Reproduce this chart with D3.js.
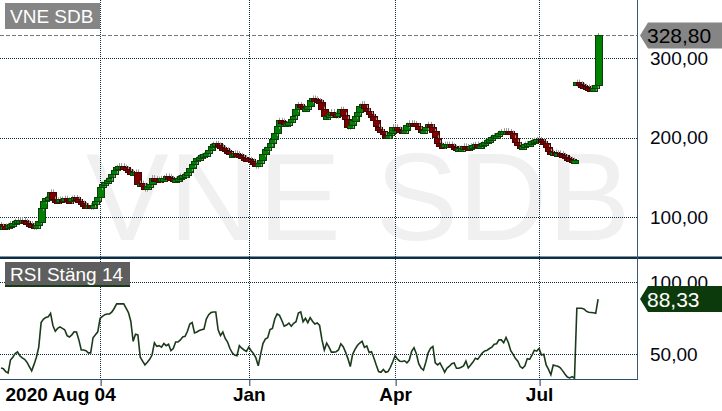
<!DOCTYPE html>
<html><head><meta charset="utf-8">
<script src="https://cdn.jsdelivr.net/npm/d3@7"></script>
<style>body{margin:0;background:#fff}svg{display:block}</style>
</head><body><svg id="c" width="722" height="411"></svg>
<script>
// ---- data (daily, 2020-08-04 .. 2021-08-05) ----
const closes = [
89,89,88,90,92,93,95,96,97,97,
95,93,92,90,88,90,95,112,121,124,
126,132,123,122,121,123,122,124,122,121,
124,125,123,120,118,116,114,115,113,116,
120,125,138,142,144,147,150,154,159,163,
165,165,163,161,158,156,157,157,142,143,
140,136,140,142,150,149,148,147,149,150,
152,151,149,148,148,150,152,153,154,157,
162,167,171,174,176,178,179,181,185,190,
192,193,191,189,187,185,183,179,179,181,
180,178,176,175,174,173,171,168,165,168,
172,180,186,188,193,198,206,215,222,221,
218,218,220,224,228,236,242,240,236,238,
240,247,250,249,247,245,236,227,227,230,
233,230,228,231,236,229,224,214,216,222,
228,233,240,243,238,234,230,227,222,214,
211,208,204,202,203,207,214,214,211,210,
209,210,216,219,219,218,215,211,209,210,
213,217,214,208,200,194,191,190,192,192,
192,190,188,186,187,187,190,189,188,190,
191,192,191,191,193,195,197,199,201,203,
204,206,208,209,209,208,206,200,195,191,
189,190,192,193,194,196,197,198,198,196,
193,188,183,182,182,181,181,180,178,176,
174,173,172,172,270,268,266,265,264,263,
262,263,266,328.8];
// opens are the previous close except where the price gapped
const gapOpens = {0: 91, 244: 268};
const rsi = [
40.5,40,38,37,46,48,50.5,51.6,49,47.5,
46.5,44.5,41.5,38.5,43,48,55,72,74.5,75.5,
76,78.5,70,66,68,69,68,67,63,62,
63.5,65.6,65.5,60,53,53,52.5,51,51,61.5,
63.5,65.6,75,76.3,77.5,78,78,79.4,82,85,
85,85,85,82,79,73,59,64,63.5,48,
45.3,42.6,44.5,46.5,49.5,58,55.5,56,55,57.5,
56,57,52.5,54,58.5,58.5,60,62,62.5,66,
71,72,64.8,65.5,66.5,67,67.5,74.5,77.5,79,
79.4,79.4,67,63,65.5,61,58.5,54,51,49.5,
49,56,54.2,53,52,55,52.5,50.5,47.5,42,
50,57.5,60.5,61.5,67.2,68,74.5,78,77,73.5,
69.5,70.3,71.7,69.5,71.5,72.6,78.7,79.5,72.6,75,
72,75.5,73,71,71.7,70,60,53,57.8,55,
51.5,51.5,51.8,53,57.3,55.3,51.5,47,41.5,50,
53.4,56.1,57.8,59,54.8,55.8,51.2,51.8,47.5,42.5,
38,37.5,39.5,37.5,38,41,44.8,49,46.6,45.2,
45,45.5,44,46,52,54.6,50.4,43.5,40.5,39,
44.5,51,54.2,55.5,44,42.6,44,41,37.6,40.5,
41.7,43.5,44,40.3,40.3,41,42,45.3,40.5,42.5,
44.6,47.3,46.5,48.8,51,52.3,52.8,54,55,57,
57.3,60,60,58,61.7,58,52.5,50,47,45.2,
41.5,40.3,42,47,46.5,49.5,52.8,52.2,54,49.5,
50,42.6,39.5,35.8,42.5,42,41.7,40.6,38.5,36.2,
34.2,33.6,34.5,33.4,82,82,82,81.5,80,79.2,
79,78.8,78.5,88.33];
const tickIdx = [42, 105, 167, 228];
const tickLabels = ["2020 Aug 04", "Jan", "Apr", "Jul"];
const priceTicks = [100, 200, 300];
const rsiTicks = [50, 100];
const lastPrice = 328.80;
const lastRsi = 88.33;
const title = "VNE SDB";
const rsiTitle = "RSI Stäng 14";

// ---- layout ----
const FONT = "'Liberation Sans', Arial, Helvetica, sans-serif";
const W = 722, plotR = 637;
const mainP = {top: 0, bottom: 257};
const rsiP = {top: 259, bottom: 379};
const GRID = "#0d2a3c";
const fmt = v => v.toFixed(2).replace('.', ',');

const svg = d3.select("#c").style("font-family", FONT);
const x = d3.scaleLinear().domain([0, closes.length - 1]).range([1, 1 + (closes.length - 1) * 2.36]);
const y = d3.scaleLinear().domain([100, 300]).range([217.3, 58.3]);
const yr = d3.scaleLinear().domain([50, 100]).range([354.3, 282.3]);

const defs = svg.append("defs");
defs.append("clipPath").attr("id", "cm").append("rect")
  .attr("x", 0).attr("y", mainP.top).attr("width", plotR).attr("height", mainP.bottom - mainP.top);
defs.append("clipPath").attr("id", "cr").append("rect")
  .attr("x", 0).attr("y", rsiP.top).attr("width", plotR).attr("height", rsiP.bottom - rsiP.top);

// watermark
svg.append("text").attr("x", 86).attr("y", 240).text(title)
  .attr("font-size", 124).attr("fill", "#f0f0f0");

// grid: main
const gm = svg.append("g");
gm.selectAll("line.h").data(priceTicks).join("line")
  .attr("x1", 0).attr("x2", plotR).attr("y1", d => Math.round(y(d)) + 0.5).attr("y2", d => Math.round(y(d)) + 0.5)
  .attr("stroke", GRID).attr("stroke-dasharray", "1,1");
gm.selectAll("line.v").data(tickIdx).join("line")
  .attr("x1", d => Math.round(x(d)) + 0.5).attr("x2", d => Math.round(x(d)) + 0.5)
  .attr("y1", mainP.top).attr("y2", mainP.bottom)
  .attr("stroke", GRID).attr("stroke-dasharray", "1,1");
// grid: rsi
const gr = svg.append("g");
gr.selectAll("line.h").data(rsiTicks).join("line")
  .attr("x1", 0).attr("x2", plotR).attr("y1", d => Math.round(yr(d)) + 0.5).attr("y2", d => Math.round(yr(d)) + 0.5)
  .attr("stroke", GRID).attr("stroke-dasharray", "1,1");
gr.selectAll("line.v").data(tickIdx).join("line")
  .attr("x1", d => Math.round(x(d)) + 0.5).attr("x2", d => Math.round(x(d)) + 0.5)
  .attr("y1", rsiP.top).attr("y2", rsiP.bottom)
  .attr("stroke", GRID).attr("stroke-dasharray", "1,1");

// last price dashed line
svg.append("line").attr("x1", 0).attr("x2", plotR)
  .attr("y1", Math.round(y(lastPrice)) + 0.5).attr("y2", Math.round(y(lastPrice)) + 0.5)
  .attr("stroke", "#777").attr("stroke-dasharray", "4,2");

// candles
const candles = closes.map((c, i) => ({i, o: gapOpens[i] !== undefined ? gapOpens[i] : closes[i - 1], c}));
const cg = svg.append("g").attr("clip-path", "url(#cm)");
const BW = 7;
const cj = cg.selectAll("g").data(candles).join("g");
cj.append("line")
  .attr("x1", d => Math.round(x(d.i)) + 0.5).attr("x2", d => Math.round(x(d.i)) + 0.5)
  .attr("y1", d => y(Math.max(d.o, d.c)) - 2.5).attr("y2", d => y(Math.min(d.o, d.c)) + 3)
  .attr("stroke", "#9a9a9a").attr("stroke-width", 1);
cj.append("rect")
  .attr("x", d => Math.round(x(d.i) - BW / 2) + 0.5)
  .attr("y", d => Math.round(y(Math.max(d.o, d.c))) + 0.5)
  .attr("width", BW)
  .attr("height", d => Math.max(3, Math.round(Math.abs(y(d.o) - y(d.c)))))
  .attr("fill", d => d.c >= d.o ? "#008000" : "#800000")
  .attr("stroke", d => d.c >= d.o ? "#0a3f0a" : "#3f0606")
  .attr("stroke-width", 1);

// RSI line
svg.append("path").attr("clip-path", "url(#cr)")
  .datum(rsi)
  .attr("d", d3.line().x((d, i) => x(i)).y(d => yr(d)))
  .attr("fill", "none").attr("stroke", "#1b3a1b").attr("stroke-width", 1.6);

// frame lines
svg.append("rect").attr("x", 0).attr("y", 256.5).attr("width", W).attr("height", 2.5).attr("fill", "#0b2e44");
svg.append("line").attr("x1", plotR + 0.5).attr("x2", plotR + 0.5).attr("y1", 0).attr("y2", rsiP.bottom)
  .attr("stroke", "#3b5877");
svg.append("line").attr("x1", 0).attr("x2", plotR + 1).attr("y1", rsiP.bottom + 0.5).attr("y2", rsiP.bottom + 0.5)
  .attr("stroke", "#2d4d6d").attr("stroke-width", 1.2);

// right axes
const axP = svg.append("g").attr("transform", `translate(${plotR},0)`)
  .call(d3.axisRight(y).tickValues(priceTicks).tickFormat(fmt).tickSize(0).tickPadding(13));
const axR = svg.append("g").attr("transform", `translate(${plotR},0)`)
  .call(d3.axisRight(yr).tickValues(rsiTicks).tickFormat(fmt).tickSize(0).tickPadding(13));
[axP, axR].forEach(a => {
  a.select(".domain").remove();
  a.selectAll("text").attr("font-size", 19).attr("font-family", FONT).attr("fill", "#05050f");
});

// bottom axis
const axB = svg.append("g").attr("transform", `translate(0,${rsiP.bottom})`)
  .call(d3.axisBottom(x).tickValues(tickIdx).tickFormat((d, i) => tickLabels[i]).tickSize(7).tickPadding(2));
axB.select(".domain").remove();
axB.selectAll("line").attr("stroke", "#1d3550").attr("transform", "translate(0.5,0)");
axB.selectAll("text").attr("font-size", 19).attr("font-weight", "bold").attr("font-family", FONT).attr("fill", "#000");
axB.selectAll(".tick").filter((d, i) => i === 0).select("text")
  .attr("text-anchor", "start").attr("x", x(0) + 4 - x(tickIdx[0]));

// value tags
function tag(yc, txt, bg, fg) {
  const g = svg.append("g");
  g.append("path").attr("d", `M${plotR + 3},${yc} L${plotR + 11},${yc - 13} L${W},${yc - 13} L${W},${yc + 13} L${plotR + 11},${yc + 13} Z`)
    .attr("fill", bg);
  g.append("text").attr("x", plotR + 10).attr("y", yc).attr("dy", "0.36em").text(txt)
    .attr("font-size", 21).attr("fill", fg);
}
tag(y(lastPrice), fmt(lastPrice), "#858585", "#000");
tag(yr(lastRsi), fmt(lastRsi), "#0c3a0c", "#fff");

// panel titles
function ptitle(x0, y0, w, h, txt, bg, underline) {
  svg.append("rect").attr("x", x0).attr("y", y0).attr("width", w).attr("height", h).attr("fill", bg);
  if (underline) svg.append("rect").attr("x", x0).attr("y", y0 + h - 2).attr("width", w).attr("height", 2).attr("fill", underline);
  svg.append("text").attr("x", x0 + 5).attr("y", y0 + h / 2).attr("dy", "0.36em").text(txt)
    .attr("font-size", 19).attr("fill", "#fff");
}
ptitle(5, 3, 95, 26, title, "#858585", null);
ptitle(5, 262, 125, 25, rsiTitle, "#5e5e5e", "#173817");
</script></body></html>
